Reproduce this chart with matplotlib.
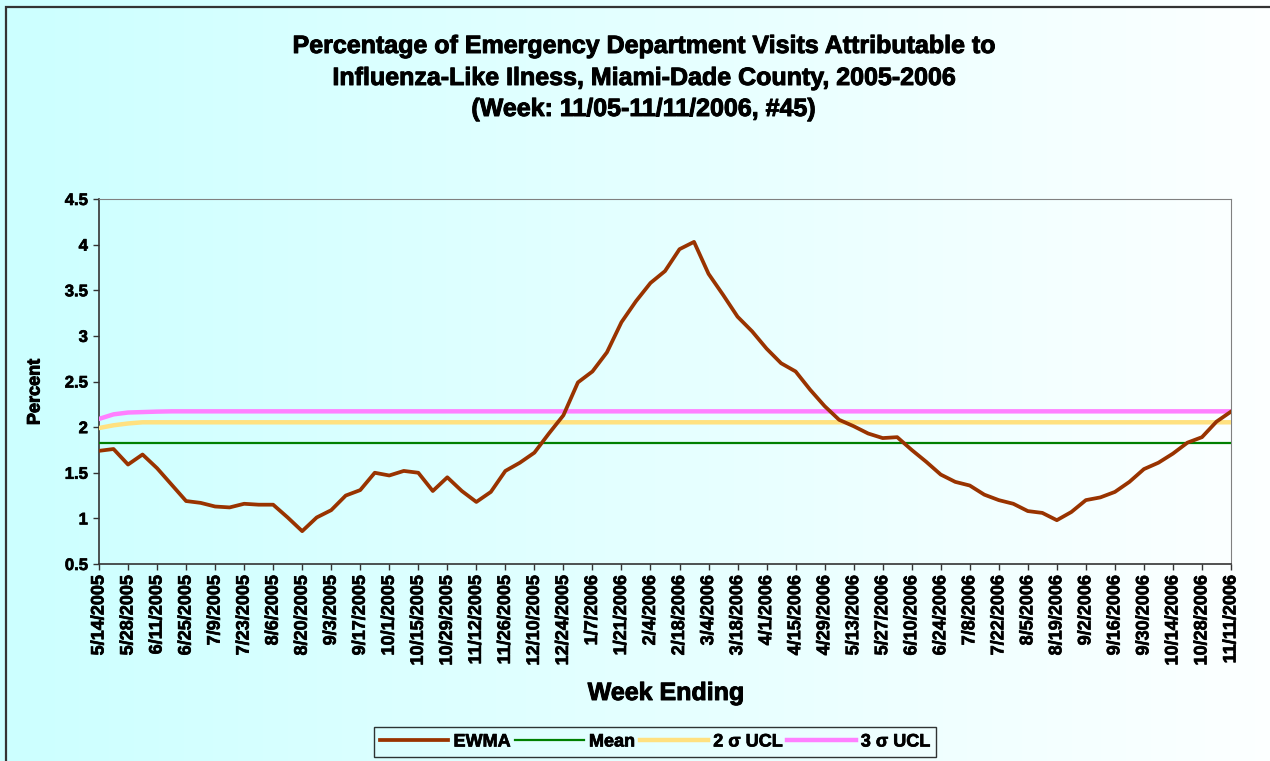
import matplotlib
matplotlib.use("Agg")
import matplotlib.pyplot as plt
import matplotlib.patheffects as pe
import numpy as np
from matplotlib.patches import Rectangle

plt.rcParams['font.family'] = ['Liberation Sans', 'DejaVu Sans']
plt.rcParams['font.weight'] = 'bold'

# weekly EWMA values, week ending 5/14/2005 .. 11/11/2006
ewma = [1.74, 1.76, 1.59, 1.70, 1.55, 1.37, 1.19, 1.17, 1.13, 1.12,
        1.16, 1.15, 1.15, 1.01, 0.86, 1.01, 1.09, 1.25, 1.31, 1.50,
        1.47, 1.52, 1.50, 1.30, 1.45, 1.30, 1.18, 1.29, 1.52, 1.61,
        1.72, 1.93, 2.13, 2.49, 2.61, 2.82, 3.15, 3.38, 3.58, 3.71,
        3.95, 4.03, 3.68, 3.45, 3.21, 3.05, 2.86, 2.70, 2.61, 2.41,
        2.23, 2.08, 2.01, 1.93, 1.88, 1.89, 1.75, 1.62, 1.48, 1.40,
        1.36, 1.26, 1.20, 1.16, 1.08, 1.06, 0.98, 1.07, 1.20, 1.23,
        1.29, 1.40, 1.54, 1.61, 1.71, 1.83, 1.89, 2.06, 2.17]
mean = [1.83] * 79
ucl2 = [1.99, 2.02, 2.04] + [2.053] * 76
ucl3 = [2.09, 2.14, 2.16, 2.165, 2.17] + [2.173] * 74

week_labels = ['5/14/2005', '5/28/2005', '6/11/2005', '6/25/2005', '7/9/2005',
               '7/23/2005', '8/6/2005', '8/20/2005', '9/3/2005', '9/17/2005',
               '10/1/2005', '10/15/2005', '10/29/2005', '11/12/2005', '11/26/2005',
               '12/10/2005', '12/24/2005', '1/7/2006', '1/21/2006', '2/4/2006',
               '2/18/2006', '3/4/2006', '3/18/2006', '4/1/2006', '4/15/2006',
               '4/29/2006', '5/13/2006', '5/27/2006', '6/10/2006', '6/24/2006',
               '7/8/2006', '7/22/2006', '8/5/2006', '8/19/2006', '9/2/2006',
               '9/16/2006', '9/30/2006', '10/14/2006', '10/28/2006', '11/11/2006']
y_ticks = [0.5, 1, 1.5, 2, 2.5, 3, 3.5, 4, 4.5]
y_labels = ['0.5', '1', '1.5', '2', '2.5', '3', '3.5', '4', '4.5']

W, H = 1270, 761
fig = plt.figure(figsize=(W / 100, H / 100), dpi=100)

# thicker glyphs, closer to the old Excel rendering
heavy = [pe.withStroke(linewidth=0.7, foreground='black')]

# background gradient, cyan -> white
bg = fig.add_axes([0, 0, 1, 1], zorder=-10)
grad = np.linspace(0, 1, 256)
img = np.zeros((1, 256, 3))
img[0, :, 0] = 0.80 + 0.19 * grad
img[0, :, 1] = 1.0
img[0, :, 2] = 1.0
bg.imshow(img, aspect='auto', extent=[0, 1, 0, 1])
bg.axis('off')

# outer chart border
fig.patches.append(Rectangle((6 / W, -0.05), 1.1, 1.05 - 7 / H, transform=fig.transFigure,
                             fill=False, edgecolor='#333333', linewidth=1.6))

ax = fig.add_axes([99 / W, 1 - 564 / H, (1231 - 99) / W, (564 - 199) / H])
ax.set_facecolor('none')

x = np.arange(len(ewma))
ax.plot(x, ewma, color='#993300', lw=2.7, label='EWMA', zorder=5)
ax.plot(x, mean, color='#008000', lw=1.6, label='Mean', zorder=3)
ax.plot(x, ucl2, color='#FFE180', lw=3.2, label='2 σ UCL', zorder=3)
ax.plot(x, ucl3, color='#FF80FF', lw=3.2, label='3 σ UCL', zorder=3)

ax.set_xlim(0, len(ewma) - 1)
ax.set_ylim(0.5, 4.5)
ax.set_xticks(x[::2])
ax.set_xticklabels(week_labels, rotation=90, fontsize=13, fontweight='bold')
ax.set_yticks(y_ticks)
ax.set_yticklabels(y_labels, fontsize=12, fontweight='bold')
ax.tick_params(axis='both', direction='out', length=4, width=1, color='#333333', pad=4)
for t in ax.get_xticklabels() + ax.get_yticklabels():
    t.set_path_effects([pe.withStroke(linewidth=0.5, foreground='black')])

for s in ['top', 'right']:
    ax.spines[s].set_color('#808080')
for s in ['left', 'bottom']:
    ax.spines[s].set_color('#333333')
    ax.spines[s].set_linewidth(1.2)

fig.text(35 / W, 1 - 392 / H, 'Percent', rotation=90, ha='center', va='center',
         fontsize=13, fontweight='bold', path_effects=heavy)
fig.text(666 / W, 1 - 693 / H, 'Week Ending', ha='center', va='center',
         fontsize=18, fontweight='bold', path_effects=heavy)

title_lines = ['Percentage of Emergency Department Visits Attributable to',
               'Influenza-Like Ilness, Miami-Dade County, 2005-2006',
               '(Week: 11/05-11/11/2006, #45)']
for line, ypix in zip(title_lines, [46, 78, 109]):
    fig.text(644 / W, 1 - ypix / H, line, ha='center', va='center',
             fontsize=18, fontweight='bold', path_effects=heavy)

leg = fig.legend(loc='center', bbox_to_anchor=(655 / W, 1 - 742 / H), ncol=4,
                 frameon=True, fancybox=False, handlelength=3.8, handletextpad=0.28,
                 columnspacing=0.25, borderpad=0.35, borderaxespad=0,
                 prop={'size': 13, 'weight': 'bold'})
leg.get_frame().set_edgecolor('black')
leg.get_frame().set_facecolor('none')
leg.get_frame().set_linewidth(1)
for t in leg.get_texts():
    t.set_path_effects([pe.withStroke(linewidth=0.5, foreground='black')])

fig.savefig('out.png', dpi=100)
